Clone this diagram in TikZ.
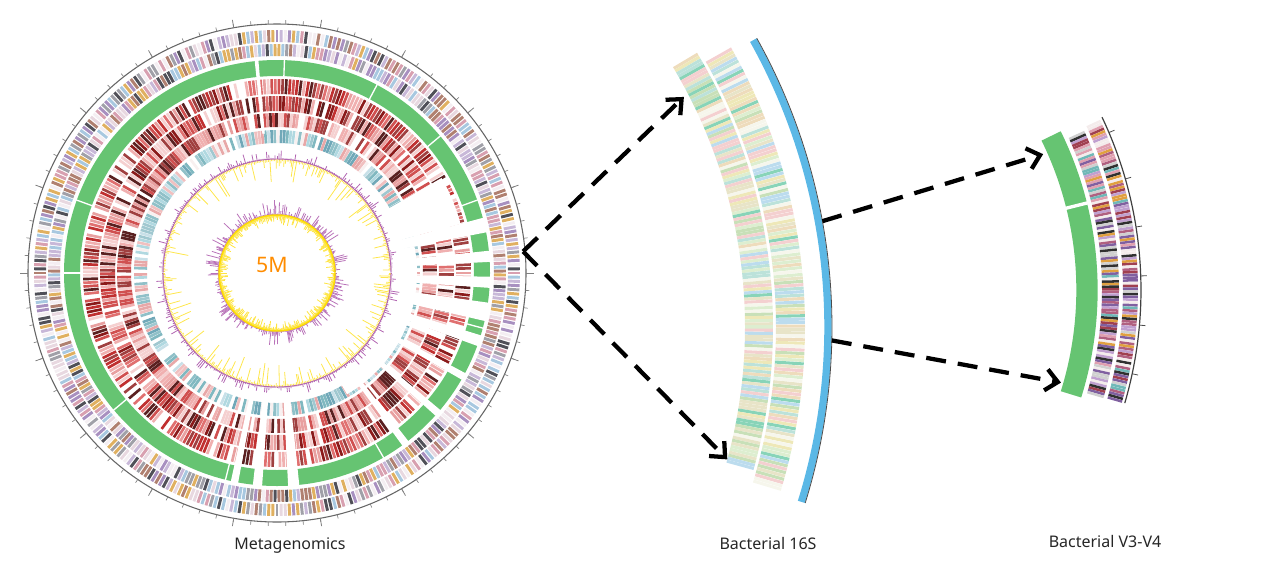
\documentclass[tikz,border=0pt]{standalone}
\usepackage{fontspec}
\setmainfont{Noto Sans}
\usetikzlibrary{arrows.meta}
\definecolor{gr}{HTML}{66C472}
\definecolor{bl}{HTML}{5BB8E6}
\definecolor{o0}{HTML}{A890C0}\definecolor{o1}{HTML}{D8A0B0}\definecolor{o2}{HTML}{A0A0A8}
\definecolor{o3}{HTML}{A8C8E0}\definecolor{o4}{HTML}{505058}\definecolor{o5}{HTML}{B08070}
\definecolor{o6}{HTML}{E0B060}\definecolor{o7}{HTML}{E8D8E0}\definecolor{o8}{HTML}{F4EEF2}
\definecolor{o9}{HTML}{C8B8D8}
\definecolor{r0}{HTML}{8B1A1A}\definecolor{r1}{HTML}{C03030}\definecolor{r2}{HTML}{E07070}
\definecolor{r3}{HTML}{F0B0B0}\definecolor{r4}{HTML}{5A2020}\definecolor{r5}{HTML}{FFFFFF}
\definecolor{r6}{HTML}{D05050}\definecolor{r7}{HTML}{F5D0D0}\definecolor{r8}{HTML}{A04040}
\definecolor{r9}{HTML}{E8A0A0}
\definecolor{b0}{HTML}{90C0C8}\definecolor{b1}{HTML}{B0D8E0}\definecolor{b2}{HTML}{70A8B8}
\definecolor{b3}{HTML}{F0C0C0}\definecolor{b4}{HTML}{FFFFFF}\definecolor{b5}{HTML}{C8E0E8}
\definecolor{b6}{HTML}{E8A8A8}\definecolor{b7}{HTML}{A0C8D0}\definecolor{b8}{HTML}{F8F0F0}
\definecolor{b9}{HTML}{80B8C0}
\definecolor{s0}{HTML}{C8E0B8}\definecolor{s1}{HTML}{BCE2DA}\definecolor{s2}{HTML}{EEE8B8}
\definecolor{s3}{HTML}{F4D0D0}\definecolor{s4}{HTML}{88D4B8}\definecolor{s5}{HTML}{DDEED0}
\definecolor{s6}{HTML}{EEDCBC}\definecolor{s7}{HTML}{BCDCEE}\definecolor{s8}{HTML}{F6F6EC}
\definecolor{s9}{HTML}{E8E4C8}
\definecolor{v0}{HTML}{8060A0}\definecolor{v1}{HTML}{E0A0B0}\definecolor{v2}{HTML}{A04050}
\definecolor{v3}{HTML}{E0A040}\definecolor{v4}{HTML}{303030}\definecolor{v5}{HTML}{70B8B8}
\definecolor{v6}{HTML}{C0A0D0}\definecolor{v7}{HTML}{D0D0D0}\definecolor{v8}{HTML}{B06080}
\definecolor{v9}{HTML}{F4ECEC}
\newcommand\wsector[4]{\fill[white] (#1:#3) arc[start angle=#1,end angle=#2,radius=#3] -- (#2:#4) arc[start angle=#2,end angle=#1,radius=#4] -- cycle;}
\tikzset{
  dasharrow/.style={line width=3.2pt, dash pattern=on 15pt off 9pt, -{Straight Barb[length=9pt,width=16pt,line width=3.2pt]}},
  lab/.style={font=\fontsize{12}{14}\selectfont, text=black!85}
}
\begin{document}
\begin{tikzpicture}[x=0.75pt,y=-0.75pt]
\useasboundingbox (0,0) rectangle (1285,572);
\pgfmathsetseed{11}
% ---------------- Metagenomics circle
\begin{scope}[shift={(277,273)}]
  \foreach \a in {0,1,...,359}{\pgfmathrandominteger{\ci}{0}{9}
    \draw[line width=2.2pt,color=o\ci] (\a:231) -- (\a:243);}
  \foreach \a in {0.5,1.5,...,359.5}{\pgfmathrandominteger{\ci}{0}{9}
    \draw[line width=2.2pt,color=o\ci] (\a:217) -- (\a:229);}
  \draw[gr, line width=12pt] (0,0) circle[radius=205];
  \foreach \a in {-88,-62,-40,-20,15,60,96,104,140,180,200}{\draw[white,line width=1pt] (\a:196) -- (\a:214);}
  \foreach \a in {0,1.1,...,358.9}{\pgfmathrandominteger{\ci}{0}{9}
    \draw[line width=2pt,color=r\ci] (\a:179) -- (\a:194);}
  \foreach \a in {0.5,1.6,...,359.4}{\pgfmathrandominteger{\ci}{0}{9}
    \draw[line width=2pt,color=r\ci] (\a:162) -- (\a:177);}
  \foreach \a in {0.3,1.4,...,359.2}{\pgfmathrandominteger{\ci}{3}{9}
    \draw[line width=2pt,color=r\ci] (\a:146) -- (\a:160);}
  \foreach \a in {0,1.3,...,358.7}{\pgfmathrandominteger{\ci}{0}{9}
    \draw[line width=2pt,color=b\ci] (\a:130) -- (\a:143);}
  % gaps
  \wsector{-30}{-15}{120}{190}
  \wsector{-15}{-11}{120}{214}
  \wsector{-6}{-3}{120}{214}
  \wsector{1}{4}{120}{214}
  \wsector{8}{13}{120}{214}
  \wsector{17}{20}{120}{214}
  \wsector{20}{22}{120}{180}
  \wsector{28}{30}{120}{214}
  \wsector{40}{42}{120}{214}
  \wsector{52}{54}{120}{214}
  \wsector{-11}{60}{120}{140}
  \wsector{84}{87}{120}{214}
  \wsector{94}{96.5}{120}{214}
  \wsector{100.5}{102.5}{120}{214}
  \wsector{-96}{-95}{140}{214}
  % outer circle and ticks
  \draw[gray!80!black, line width=0.8pt] (0,0) circle[radius=249];
  \foreach \a in {0,4,...,356}{\draw[gray, line width=0.5pt] (\a:249) -- (\a:253);}
  \foreach \a in {0,20,...,340}{\draw[gray, line width=0.6pt] (\a:249) -- (\a:257);}
  % plots
  \foreach \a in {0,0.8,...,359.2}{\pgfmathsetmacro\L{2+24*rnd^7}
    \draw[yellow!80!orange!70!white, line width=0.6pt] (\a:114) -- (\a:114-\L);}
  \foreach \a in {0,1,...,359}{\pgfmathsetmacro\L{1+9*rnd^4}
    \draw[violet!60, line width=0.6pt] (\a:114) -- (\a:114+\L);}
  \draw[violet!60, line width=0.7pt] (0,0) circle[radius=114];
  \foreach \a in {0,0.8,...,359.2}{\pgfmathsetmacro\L{1+14*rnd^4}
    \draw[violet!55, line width=0.6pt] (\a:58) -- (\a:58+\L);}
  \foreach \a in {0,0.8,...,359.2}{\pgfmathsetmacro\L{2+8*rnd^3}
    \draw[yellow!80!orange!75!white, line width=0.6pt] (\a:58) -- (\a:58-\L);}
  \draw[yellow!80!orange, line width=1.1pt] (0,0) circle[radius=58];
  \node[text=orange!90!yellow, font=\fontsize{16}{18}\selectfont] (fivem) at (-5,-8) {5M};
  \coordinate (hub) at (-5:247);
\end{scope}
% ---------------- Bacterial 16S arc
\begin{scope}[shift={(240,327)}]
  \foreach \a in {-30.8,-30.45,...,15.5}{\pgfmathrandominteger{\ci}{0}{9}
    \draw[line width=2.3pt,color=s\ci] (\a:505) -- (\a:533);}
  \foreach \a in {-29.5,-29.15,...,17}{\pgfmathrandominteger{\ci}{0}{9}
    \draw[line width=2.3pt,color=s\ci] (\a:536) -- (\a:565);}
  \draw[bl, line width=5.5pt] (-29.2:588) arc[start angle=-29.2,end angle=17.3,radius=588];
  \draw[black!70, line width=0.6pt] (-29.2:592) arc[start angle=-29.2,end angle=17.3,radius=592];
  \coordinate (s16a) at (-10.3:592);
  \coordinate (s16b) at (1.3:592);
  \coordinate (s16top) at (-27.4:500);
  \coordinate (s16bot) at (15.2:505);
\end{scope}
% ---------------- Bacterial V3-V4 fragment
\begin{scope}[shift={(738,290)}]
  \draw[gr, line width=16pt] (-26.2:349) arc[start angle=-26.2,end angle=17.4,radius=349];
  \draw[white,line width=2.5pt] (-14:336) -- (-14:362);
  \foreach \a in {-24.5,-24.1,...,16.5}{\pgfmathrandominteger{\ci}{0}{9}
    \draw[line width=1.9pt,color=v\ci] (\a:364) -- (\a:381);}
  \foreach \a in {-25,-24.6,...,16.5}{\pgfmathrandominteger{\ci}{0}{9}
    \draw[line width=1.9pt,color=v\ci] (\a:385) -- (\a:400);}
  \draw[black!75, line width=0.9pt] (-25.4:403) arc[start angle=-25.4,end angle=16.3,radius=403];
  \foreach \a in {-23,-16,...,15}{\draw[black!70, line width=0.6pt] (\a:403) -- (\a:409);}
  \coordinate (vtop) at (-24:334);
  \coordinate (vbot) at (16:336);
\end{scope}
% ---------------- arrows
\draw[dasharrow] (hub) -- (s16top);
\draw[dasharrow] (hub) -- (s16bot);
\draw[dasharrow] (s16a) -- (vtop);
\draw[dasharrow] (s16b) -- (vbot);
% ---------------- labels
\node[lab] (l1) at (290,546) {Metagenomics};
\node[lab] (l2) at (768,543) {Bacterial 16S};
\node[lab] (l3) at (1105,541) {Bacterial V3-V4};
\end{tikzpicture}
\end{document}
